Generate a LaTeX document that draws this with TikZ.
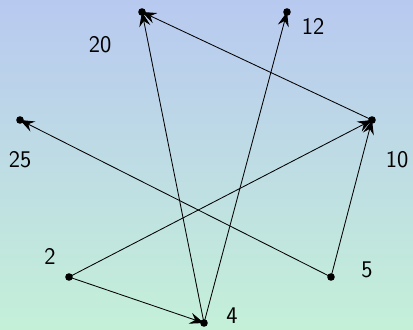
\documentclass[tikz,border=0pt]{standalone}
\usepackage{xcolor}
\usepackage{tikz}
\usetikzlibrary{arrows.meta,calc}
\definecolor{bgtop}{RGB}{184,201,240}
\definecolor{bgbot}{RGB}{196,240,216}
\tikzset{
  gdot/.style={circle, fill=black, inner sep=0pt, minimum size=1.9mm},
  glabel/.style={font=\fontsize{17}{20}\selectfont\sffamily, inner sep=0pt},
  garrow/.style={-{Stealth[length=3.6mm, width=2.8mm, inset=1.3mm]}, line width=0.6pt}
}
\begin{document}
\begin{tikzpicture}[x=0.025cm, y=-0.025cm]
\shade[top color=bgtop, bottom color=bgbot] (0,0) rectangle (413,329);
\useasboundingbox (0,0) rectangle (413,329);

\node[gdot] (n20) at (142,12) {};
\node[gdot] (n12) at (287,12) {};
\node[gdot] (n25) at (20,120) {};
\node[gdot] (n10) at (372,120) {};
\node[gdot] (n2) at (69,277) {};
\node[gdot] (n5) at (331,277) {};
\node[gdot] (n4) at (204,323) {};

\node[glabel] (l20) at ($(n20)+(-42,33)$) {20};
\node[glabel] (l12) at ($(n12)+(26,14)$) {12};
\node[glabel] (l25) at ($(n25)+(0,40)$) {25};
\node[glabel] (l10) at ($(n10)+(25,40)$) {10};
\node[glabel] (l2) at ($(n2)+(-19,-21)$) {2};
\node[glabel] (l5) at ($(n5)+(36,-7)$) {5};
\node[glabel] (l4) at ($(n4)+(28,-7)$) {4};

\draw[garrow] (n2.center) -- (n4.center);
\draw[garrow] (n2.center) -- (n10.center);
\draw[garrow] (n4.center) -- (n20.center);
\draw[garrow] (n4.center) -- (n12.center);
\draw[garrow] (n5.center) -- (n10.center);
\draw[garrow] (n5.center) -- (n25.center);
\draw[garrow] (n10.center) -- (n20.center);
\end{tikzpicture}
\end{document}
